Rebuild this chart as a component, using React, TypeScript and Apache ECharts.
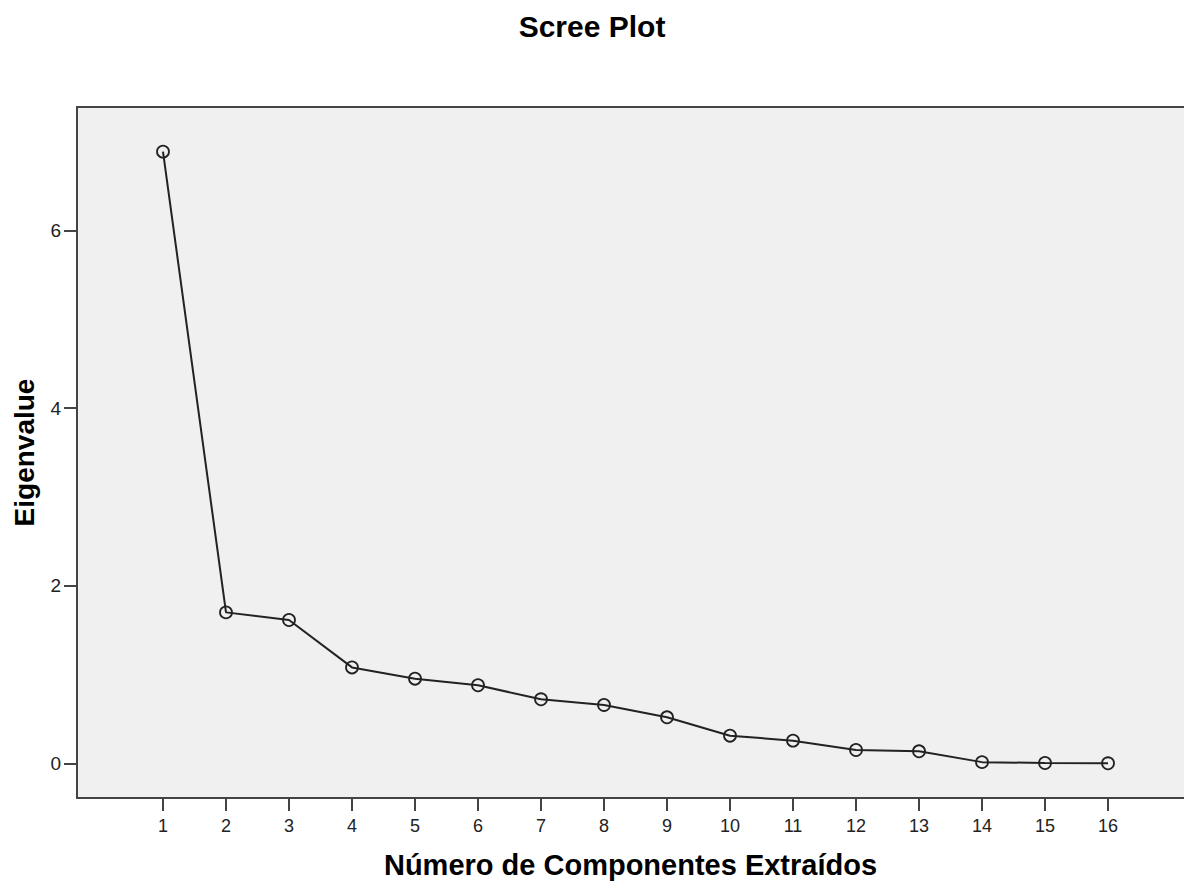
import React, { useEffect, useRef } from "react";
import * as echarts from "echarts";

const components = [1, 2, 3, 4, 5, 6, 7, 8, 9, 10, 11, 12, 13, 14, 15, 16];
const eigenvalues = [6.89, 1.7, 1.614, 1.08, 0.953, 0.879, 0.721, 0.657, 0.518, 0.311, 0.255, 0.15, 0.135, 0.013, 0.003, 0.0];
const yTicks = [0, 2, 4, 6];
const titleText = "Scree Plot";
const xName = "Número de Componentes Extraídos";
const yName = "Eigenvalue";

const FONT = "'Liberation Sans', Arial, sans-serif";

export default function App() {
  const ref = useRef<HTMLDivElement>(null);
  useEffect(() => {
    if (!ref.current) return;
    const chart = echarts.init(ref.current, null, { renderer: "svg" });
    const axisColor = "#444";
    chart.setOption({
      animation: false,
      backgroundColor: "#ffffff",
      title: {
        text: titleText,
        left: "center",
        top: 6,
        textStyle: { fontFamily: FONT, fontSize: 30, fontWeight: "bold", color: "#000" },
      },
      grid: {
        left: 77,
        top: 107,
        right: 0,
        bottom: 92,
        show: true,
        backgroundColor: "#f0f0f0",
        borderWidth: 0,
        containLabel: false,
        outerBoundsMode: "none",
      },
      xAxis: [
        {
          type: "value",
          min: -0.365,
          max: 17.206,
          position: "bottom",
          axisLine: { show: true, onZero: false, lineStyle: { color: axisColor, width: 2 } },
          axisTick: { show: true, length: 13, customValues: components, lineStyle: { color: axisColor, width: 2 } },
          axisLabel: { show: true, customValues: components, margin: 19, fontFamily: FONT, fontSize: 18, color: "#222" },
          splitLine: { show: false },
          name: xName,
          nameLocation: "middle",
          nameGap: 52,
          nameTextStyle: { fontFamily: FONT, fontSize: 29, fontWeight: "bold", color: "#000" },
        },
        {
          type: "value",
          min: -0.365,
          max: 17.206,
          position: "top",
          axisLine: { show: true, onZero: false, lineStyle: { color: axisColor, width: 2 } },
          axisTick: { show: false },
          axisLabel: { show: false },
          splitLine: { show: false },
        },
      ],
      yAxis: {
        type: "value",
        min: -0.391,
        max: 7.393,
        axisLine: { show: true, onZero: false, lineStyle: { color: axisColor, width: 2 } },
        axisTick: { show: true, length: 13, customValues: yTicks, lineStyle: { color: axisColor, width: 2 } },
        axisLabel: { show: true, customValues: yTicks, margin: 16, fontFamily: FONT, fontSize: 19, color: "#222" },
        splitLine: { show: false },
        name: yName,
        nameLocation: "middle",
        nameGap: 39,
        nameRotate: 90,
        nameTextStyle: { fontFamily: FONT, fontSize: 28, fontWeight: "bold", color: "#000" },
      },
      series: [
        {
          type: "line",
          xAxisIndex: 0,
          data: components.map((c, i) => [c, eigenvalues[i]]),
          symbol: "circle",
          symbolSize: 12,
          lineStyle: { color: "#222", width: 2 },
          itemStyle: { color: "transparent", borderColor: "#222", borderWidth: 1.8 },
        },
      ],
    });
    return () => chart.dispose();
  }, []);
  return (
    <div
      ref={ref}
      style={{ position: "absolute", left: 0, top: 0, width: 1184, height: 890 }}
    />
  );
}
